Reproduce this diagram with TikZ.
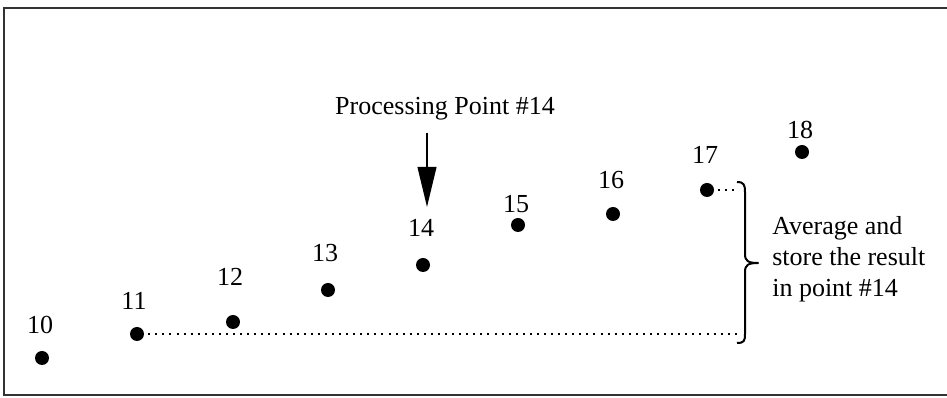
\documentclass[tikz,border=0pt]{standalone}
\usepackage{fontspec}
\setmainfont{Liberation Serif}
\usetikzlibrary{arrows.meta}
\begin{document}
\begin{tikzpicture}[x=0.75pt,y=-0.75pt,
  pt/.style={circle,fill=black,inner sep=0pt,minimum size=10.5pt},
  lbl/.style={inner sep=0pt,font=\fontsize{19.5}{23}\selectfont},
  txt/.style={inner sep=0pt,anchor=base west,font=\fontsize{19.5}{23}\selectfont},
  dots/.style={line width=1.7pt,dash pattern=on 1.5pt off 3.8pt},
  frame/.style={line width=2pt,draw=black!80}]
\useasboundingbox (0,0) rectangle (947,398);
\draw[frame] (950,8) -- (4,8) -- (4,395) -- (950,395);
% points
\node[pt] (p10) at (42,358) {};
\node[pt] (p11) at (137,334) {};
\node[pt] (p12) at (233,322) {};
\node[pt] (p13) at (328,290) {};
\node[pt] (p14) at (423,265) {};
\node[pt] (p15) at (518,225) {};
\node[pt] (p16) at (613,214) {};
\node[pt] (p17) at (707,190) {};
\node[pt] (p18) at (802,152) {};
% labels
\node[lbl] (l10) at (40,325) {10};
\node[lbl] (l11) at (134,301) {11};
\node[lbl] (l12) at (230,277) {12};
\node[lbl] (l13) at (325,253) {13};
\node[lbl] (l14) at (421,228) {14};
\node[lbl] (l15) at (516,204) {15};
\node[lbl] (l16) at (611,180) {16};
\node[lbl] (l17) at (705,155) {17};
\node[lbl] (l18) at (800,130) {18};
% processing label and arrow
\node[lbl,anchor=base] (proc) at (445,115) {Processing Point \#14};
\coordinate (a1) at (427,133);
\coordinate (a2) at (427,207);
\draw[line width=1.5pt,-{Triangle[length=30pt,width=14pt]}] (a1) -- (a2);
% brace
\coordinate (btop) at (737,182);
\coordinate (bbot) at (737,343);
\coordinate (btip) at (758,263);
\draw[line width=1.5pt,line join=round]
  (btop) .. controls (744,182) and (745,185) .. (745,192) -- (745,254)
  .. controls (745,261) and (748,263) .. (btip)
  .. controls (748,263) and (745,265) .. (745,272) -- (745,334)
  .. controls (745,341) and (744,343) .. (bbot);
% dotted connectors
\draw[dots] (p11.east) ++(4,0) -- (bbot |- p11);
\draw[dots] (p17.east) ++(4,0) -- (btop |- p17);
% right text
\node[txt] (t1) at (772,235) {Average and};
\node[txt] (t2) at (772,266) {store the result};
\node[txt] (t3) at (772,297) {in point \#14};
\end{tikzpicture}
\end{document}
